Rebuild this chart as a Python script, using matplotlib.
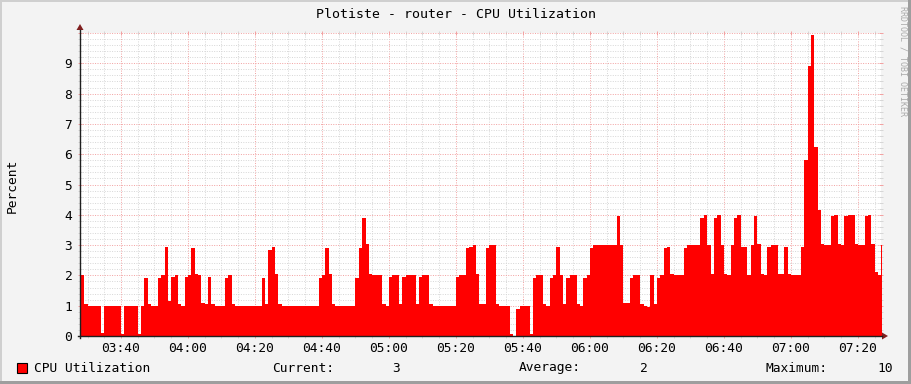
import matplotlib
matplotlib.use('Agg')
import matplotlib.pyplot as plt
from matplotlib.ticker import MultipleLocator, FuncFormatter
from matplotlib.lines import Line2D
from matplotlib.patches import Polygon, Rectangle

W, H = 911, 384
FONT = 'DejaVu Sans Mono'

# one sample per minute, first sample at 03:28 (minutes counted from 03:00)
first_minute = 28
cpu = [2.0, 1.05, 1.0, 1.0, 1.0, 1.0, 0.1, 1.0, 1.0, 1.0, 1.0, 1.0,      # 03:28
       0.05, 1.0, 1.0, 1.0, 1.0, 0.05, 1.0, 1.9, 1.05, 1.0,              # 03:40
       1.0, 1.9, 2.0, 2.95, 1.15, 1.95, 2.0, 1.05, 1.0, 1.95,            # 03:50
       2.0, 2.9, 2.05, 2.0, 1.1, 1.05, 1.95, 1.05, 1.0, 1.0,             # 04:00
       1.0, 1.9, 2.0, 1.05, 1.0, 1.0, 1.0, 1.0, 1.0, 1.0,                # 04:10
       1.0, 1.0, 1.9, 1.05, 2.85, 2.95, 2.05, 1.05, 1.0, 1.0,            # 04:20
       1.0, 1.0, 1.0, 1.0, 1.0, 1.0, 1.0, 1.0, 1.0, 1.9,                 # 04:30
       2.0, 2.9, 2.05, 1.05, 1.0, 1.0, 1.0, 1.0, 1.0, 1.0,               # 04:40
       1.9, 2.9, 3.9, 3.05, 2.05, 2.0, 2.0, 2.0, 1.05, 1.0,              # 04:50
       1.95, 2.0, 2.0, 1.05, 1.95, 2.0, 2.0, 2.0, 1.05, 1.95,            # 05:00
       2.0, 2.0, 1.05, 1.0, 1.0, 1.0, 1.0, 1.0, 1.0, 1.0,                # 05:10
       1.95, 2.0, 2.0, 2.9, 2.95, 3.0, 2.05, 1.05, 1.05, 2.9,            # 05:20
       3.0, 3.0, 1.05, 1.0, 1.0, 1.0, 0.05, 0.0, 0.9, 1.0,               # 05:30
       1.0, 1.0, 0.05, 1.9, 2.0, 2.0, 1.05, 1.0, 1.9, 2.0,               # 05:40
       2.95, 2.0, 1.05, 1.9, 2.0, 2.0, 1.05, 1.0, 1.9, 2.0,              # 05:50
       2.9, 3.0, 3.0, 3.0, 3.0, 3.0, 3.0, 3.0, 3.95, 3.0,                # 06:00
       1.1, 1.1, 1.9, 2.0, 2.0, 1.05, 1.0, 0.95, 2.0, 1.05,              # 06:10
       1.9, 2.0, 2.9, 2.95, 2.05, 2.0, 2.0, 2.0, 2.9, 3.0,               # 06:20
       3.0, 3.0, 3.0, 3.9, 4.0, 3.0, 2.05, 3.9, 4.0, 3.0,                # 06:30
       2.05, 2.0, 3.0, 3.9, 4.0, 2.95, 2.95, 2.0, 3.0, 3.95,             # 06:40
       3.05, 2.05, 2.0, 2.95, 3.0, 3.0, 2.05, 2.05, 2.95, 2.05,          # 06:50
       2.0, 2.0, 2.0, 2.95, 5.8, 8.9, 9.95, 6.25, 4.15, 3.05,            # 07:00
       3.0, 3.0, 3.95, 4.0, 3.05, 3.0, 3.95, 4.0, 4.0, 3.05,             # 07:10
       3.0, 3.0, 3.95, 4.0, 3.05, 2.1, 2.0, 3.0]                         # 07:20

title = 'Plotiste - router - CPU Utilization'
series_name = 'CPU Utilization'
current, average, maximum = 3, 2, 10
x_start, x_end = 27.76, 266.9


def fx(px):
    return px / W


def fy(py):
    return 1 - py / H


plt.rcParams['font.family'] = FONT
fig = plt.figure(figsize=(W / 100, H / 100), dpi=100, facecolor='#F3F3F3')
ax = fig.add_axes([fx(80), fy(336), (881 - 80) / W, (336 - 33) / H])
ax.set_facecolor('white')

t = [first_minute + i for i in range(len(cpu))]
ax.fill_between(t + [t[-1] + 1], cpu + [cpu[-1]], step='post', color='#FF0000',
                linewidth=0, zorder=3)

ax.set_xlim(x_start, x_end)
ax.set_ylim(0, 10)

ax.xaxis.set_major_locator(MultipleLocator(20))
ax.xaxis.set_minor_locator(MultipleLocator(5))
ax.yaxis.set_major_locator(MultipleLocator(1))
ax.yaxis.set_minor_locator(MultipleLocator(0.2))
ax.xaxis.set_major_formatter(FuncFormatter(
    lambda v, p: '%02d:%02d' % (3 + int(v) // 60, int(v) % 60)))
ax.yaxis.set_major_formatter(FuncFormatter(
    lambda v, p: '' if v >= 10 else '%d' % v))

ax.grid(which='minor', color='#D6D6D6', linestyle=(0, (1, 1.5)), linewidth=0.7)
ax.grid(which='major', color='#F2A0A0', linestyle=(0, (1, 1.5)), linewidth=0.7)
ax.set_axisbelow(True)

ax.tick_params(which='both', labelsize=9.3, colors='#D6D6D6', labelcolor='black',
               direction='inout', length=3, width=0.7)
ax.tick_params(which='major', colors='#F2A0A0', labelcolor='black')
ax.tick_params(axis='y', which='both', right=True, pad=4)
ax.tick_params(axis='x', which='both', top=True, pad=3)

for s in ['top', 'right', 'left', 'bottom']:
    ax.spines[s].set_visible(False)

# axes with arrows, rrdtool style
axis_col = '#1F1F1F'
arrow_col = '#801F1F'
fig.add_artist(Line2D([fx(78), fx(882)], [fy(336), fy(336)], color=axis_col, lw=1.0))
fig.add_artist(Line2D([fx(80), fx(80)], [fy(338), fy(30)], color=axis_col, lw=1.0))
fig.add_artist(Polygon([(fx(882), fy(332.5)), (fx(888), fy(336)), (fx(882), fy(339.5))],
                       closed=True, color=arrow_col, lw=0))
fig.add_artist(Polygon([(fx(76.5), fy(30)), (fx(80), fy(24)), (fx(83.5), fy(30))],
                       closed=True, color=arrow_col, lw=0))

# frame shading
fig.add_artist(Rectangle((0, fy(2)), 1, 2 / H, color='#CFCFCF', lw=0))
fig.add_artist(Rectangle((0, 0), 2 / W, 1, color='#CFCFCF', lw=0))
fig.add_artist(Rectangle((fx(908), 0), 3 / W, 1, color='#9E9E9E', lw=0))
fig.add_artist(Rectangle((0, 0), 1, 3 / H, color='#9E9E9E', lw=0))

fig.text(0.5, fy(14), title, ha='center', va='center', fontsize=9.5)
fig.text(fx(12), fy(186), 'Percent', ha='center', va='center', rotation=90,
         fontsize=9.3)
fig.text(fx(903), fy(6), 'RRDTOOL / TOBI OETIKER', ha='center', va='top',
         rotation=270, fontsize=6, color='#AAAAAA')

# legend line
ly = fy(368)
fig.add_artist(Rectangle((fx(17), fy(373)), 10 / W, 10 / H, facecolor='#FF0000',
                         edgecolor='black', lw=0.8))
fig.text(fx(34), ly, series_name, ha='left', va='center', fontsize=9.3)
fig.text(fx(272), ly, 'Current:', ha='left', va='center', fontsize=9.3)
fig.text(fx(400), ly, '%d' % current, ha='right', va='center', fontsize=9.3)
fig.text(fx(519), ly, 'Average:', ha='left', va='center', fontsize=9.3)
fig.text(fx(648), ly, '%d' % average, ha='right', va='center', fontsize=9.3)
fig.text(fx(765), ly, 'Maximum:', ha='left', va='center', fontsize=9.3)
fig.text(fx(893), ly, '%d' % maximum, ha='right', va='center', fontsize=9.3)

fig.savefig('out.png', dpi=100, facecolor=fig.get_facecolor())
